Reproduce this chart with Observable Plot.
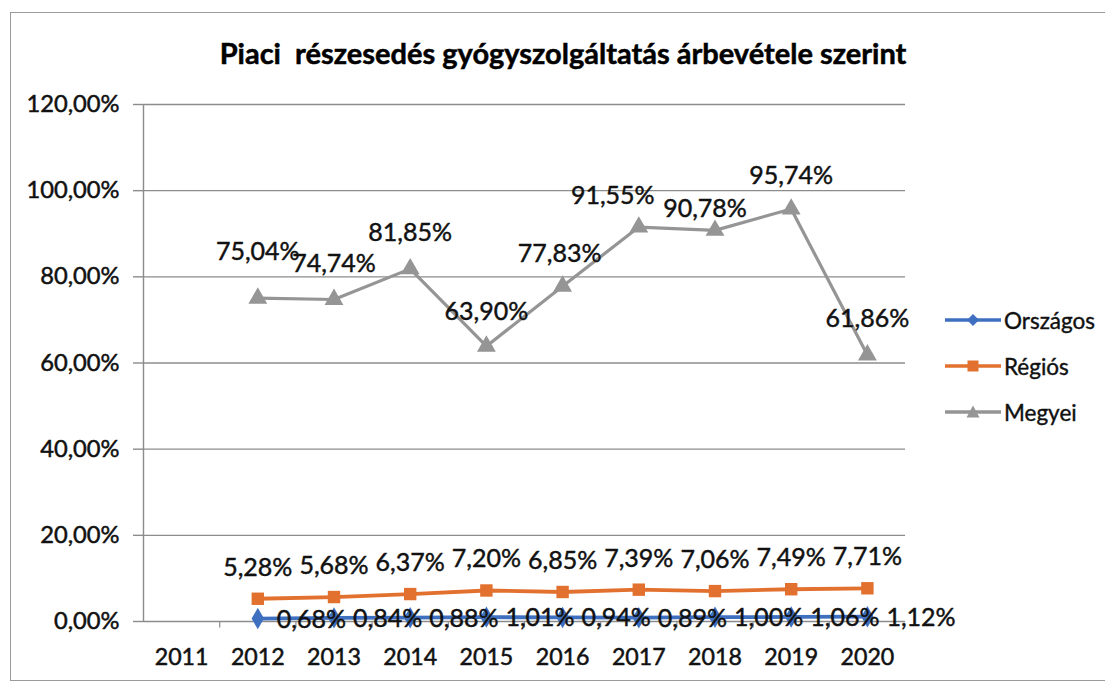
<!DOCTYPE html>
<html>
<head>
<meta charset="utf-8">
<script src="https://cdn.jsdelivr.net/npm/d3@7"></script>
<script src="https://cdn.jsdelivr.net/npm/@observablehq/plot@0.6"></script>
<style>
  html, body { margin: 0; padding: 0; background: #fff; }
  body { position: relative; width: 1105px; height: 683px; overflow: hidden; font-family: Lato, "Open Sans", sans-serif; color: #111; }
  #frame { position: absolute; left: 10px; top: 12px; width: 1100px; height: 669px; border: 1.5px solid #9a9a9a; border-right: none; box-sizing: border-box; }
  #title { position: absolute; left: 563px; top: 38px; transform: translateX(-50%); white-space: pre; font-weight: 700; font-size: 29px; line-height: 29px; color: #000; -webkit-text-stroke: 0.5px #000; }
  #chart { position: absolute; left: 0; top: 90px; }
  #legend { position: absolute; left: 944px; top: 297px; }
  .item { display: flex; align-items: center; height: 46px; font-size: 22.5px; color: #111; -webkit-text-stroke: 0.4px #111; }
  .item svg { margin-right: 2px; }
</style>
</head>
<body>
<div id="frame"></div>
<div id="title"></div>
<div id="chart"></div>
<div id="legend"></div>
<script>
const titleText = "Piaci  részesedés gyógyszolgáltatás árbevétele szerint";
const axisYears = [2011, 2012, 2013, 2014, 2015, 2016, 2017, 2018, 2019, 2020];
const years = [2012, 2013, 2014, 2015, 2016, 2017, 2018, 2019, 2020];
const orszagos = [0.68, 0.84, 0.88, 1.01, 0.94, 0.89, 1.00, 1.06, 1.12];
const regios = [5.28, 5.68, 6.37, 7.20, 6.85, 7.39, 7.06, 7.49, 7.71];
const megyei = [75.04, 74.74, 81.85, 63.90, 77.83, 91.55, 90.78, 95.74, 61.86];
const yTicks = [0, 20, 40, 60, 80, 100, 120];
const seriesNames = ["Országos", "Régiós", "Megyei"];

// label nudges (pixels) for the Megyei data labels, as placed in the reference
const megyeiLabelNudge = [[0, -46], [0, -35], [0, -36], [0, -34], [-3, -32], [-26, -31], [-10, -21], [0, -33], [0, -36]];

const seriesColors = ["#3f6fbf", "#e2712f", "#959595"];
const seriesSymbols = ["diamond", "square", "triangle"];

const fmt = v => v.toFixed(2).replace(".", ",") + "%";

document.getElementById("title").textContent = titleText;

const rows = (vals) => years.map((yr, i) => ({year: yr, value: vals[i]}));
const dO = rows(orszagos), dR = rows(regios), dM = rows(megyei);
const bounds = axisYears.slice(0, -1).map(y => y + 0.5);

const grid = "#8c8c8c";
const labelStyle = {fontSize: 25, fill: "#111", stroke: "#111", strokeWidth: 0.45};
const axisText = {fill: "#111", textStroke: "#111", textStrokeWidth: 0.5};

const chart = Plot.plot({
  width: 930,
  height: 593,
  marginLeft: 143,
  marginRight: 25,
  marginTop: 14,
  marginBottom: 62,
  x: {type: "linear", domain: [2010.5, 2020.5], axis: null},
  y: {domain: [0, 120], axis: null},
  style: {fontFamily: "Lato, 'Open Sans', sans-serif", color: "#111", background: "transparent", overflow: "visible"},
  marks: [
    Plot.ruleY(yTicks, {stroke: grid, strokeWidth: 1.4}),
    Plot.axisY({ticks: yTicks, label: null, tickSize: 10, tickPadding: 14, tickFormat: fmt, fontSize: 23.7, stroke: grid, strokeWidth: 1.4, strokeOpacity: 1, ...axisText}),
    Plot.ruleX([2010.5], {stroke: grid, strokeWidth: 1.4}),
    Plot.ruleX(bounds, {y1: 0, y2: -1.5, stroke: grid, strokeWidth: 1.2}),
    Plot.axisX({ticks: axisYears, label: null, tickSize: 0, tickPadding: 27, tickFormat: d => String(d), fontSize: 23.2, ...axisText}),
    // Megyei
    Plot.line(dM, {x: "year", y: "value", stroke: seriesColors[2], strokeWidth: 3.2}),
    Plot.dot(dM, {x: "year", y: "value", symbol: seriesSymbols[2], fill: seriesColors[2], r: 7}),
    ...dM.map((d, i) => Plot.text([d], {x: "year", y: "value", text: d => fmt(d.value), dx: megyeiLabelNudge[i][0], dy: megyeiLabelNudge[i][1], ...labelStyle})),
    // Régiós
    Plot.line(dR, {x: "year", y: "value", stroke: seriesColors[1], strokeWidth: 3.8}),
    Plot.dot(dR, {x: "year", y: "value", symbol: seriesSymbols[1], fill: seriesColors[1], r: 7}),
    Plot.text(dR, {x: "year", y: "value", text: d => fmt(d.value), dy: -31, ...labelStyle}),
    // Országos
    Plot.line(dO, {x: "year", y: "value", stroke: seriesColors[0], strokeWidth: 3.8}),
    Plot.dot(dO, {x: "year", y: "value", symbol: seriesSymbols[0], fill: seriesColors[0], r: 6.5}),
    Plot.text(dO, {x: "year", y: "value", text: d => fmt(d.value), dx: 19, dy: 1, textAnchor: "start", ...labelStyle})
  ]
});
document.getElementById("chart").appendChild(chart);

// legend
const symPath = {
  diamond: "M29,4 L35,10 L29,16 L23,10 Z",
  square: "M23.5,4.5 H34.5 V15.5 H23.5 Z",
  triangle: "M29,3.5 L35.5,15.5 L22.5,15.5 Z"
};
const legend = document.getElementById("legend");
seriesNames.forEach((name, i) => {
  const div = document.createElement("div");
  div.className = "item";
  div.innerHTML = `<svg width="58" height="20"><line x1="1" x2="57" y1="10" y2="10" stroke="${seriesColors[i]}" stroke-width="3.5"/><path d="${symPath[seriesSymbols[i]]}" fill="${seriesColors[i]}"/></svg><span>${name}</span>`;
  legend.appendChild(div);
});
</script>
</body>
</html>
